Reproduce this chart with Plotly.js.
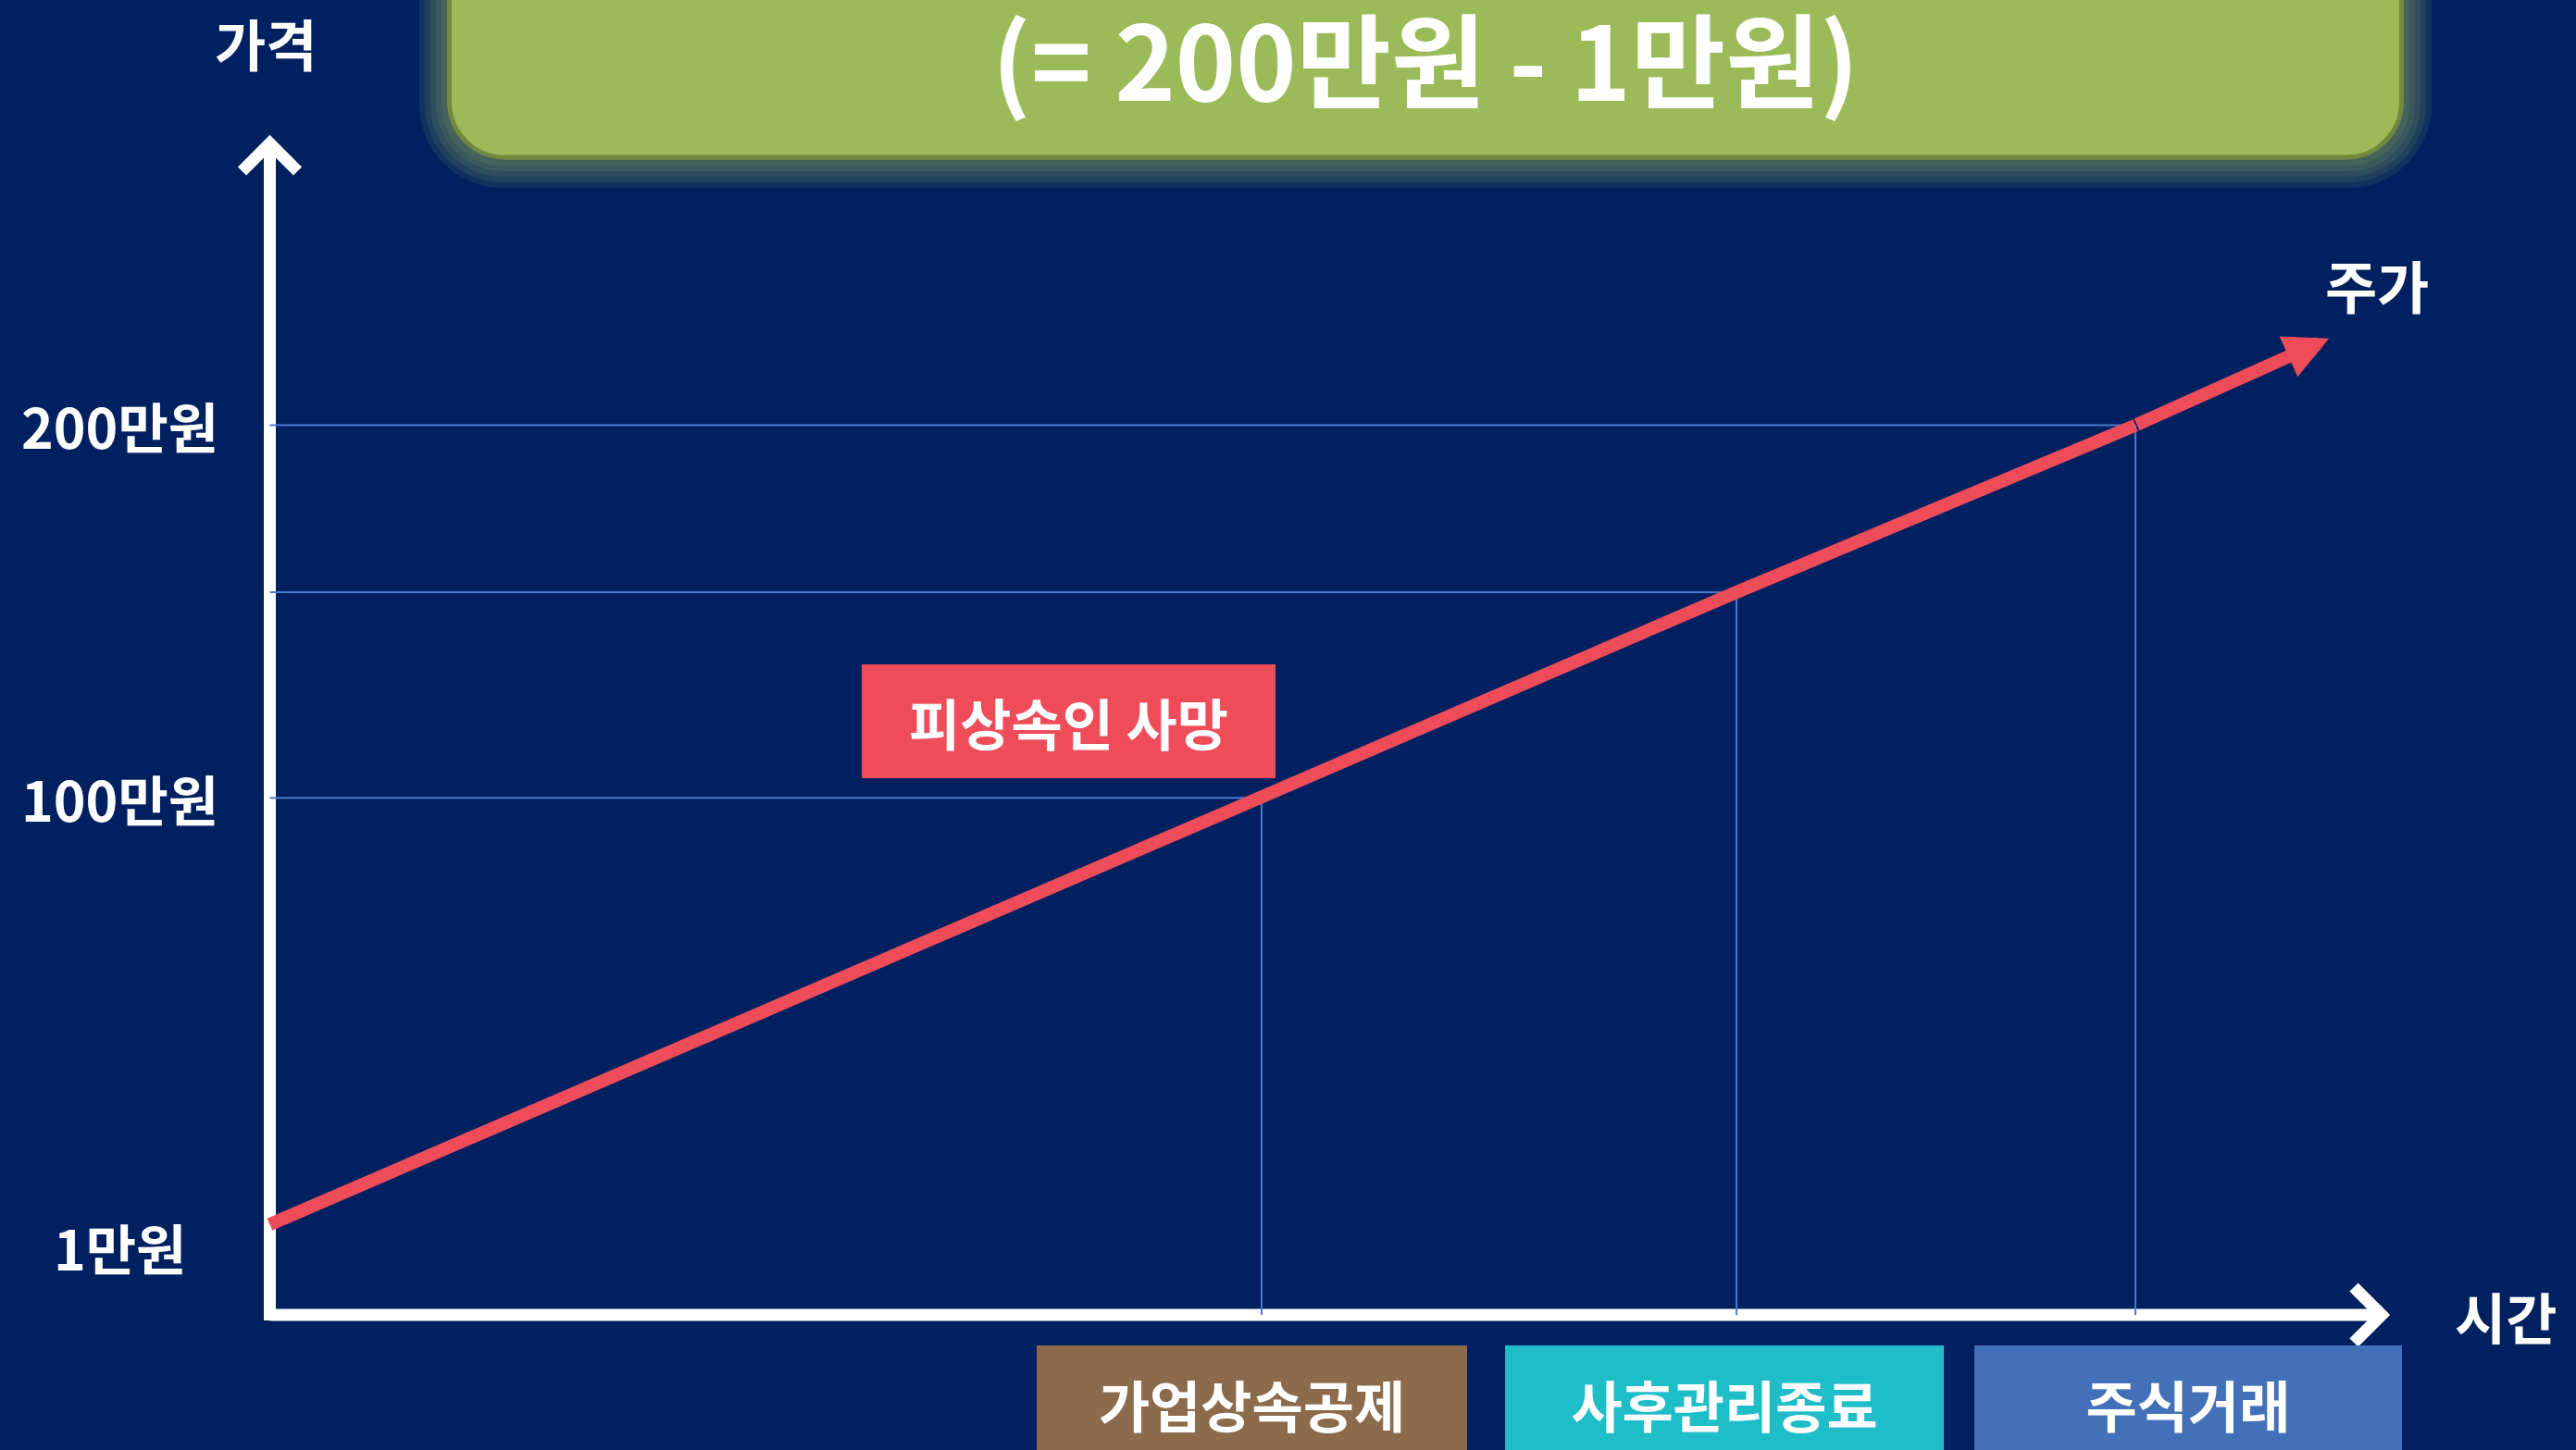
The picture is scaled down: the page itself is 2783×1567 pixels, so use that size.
<!DOCTYPE html>
<html><head><meta charset="utf-8">
<script src="https://cdn.plot.ly/plotly-3.0.1.min.js"></script>
<style>html,body{margin:0;padding:0;background:#002060;overflow:hidden}#chart{width:2783px;height:1567px;}</style>
</head><body><div id="chart"></div>
<script>
// ---------------- data ----------------
const chartTitle = '(= 200만원 - 1만원)';
const priceAxisTitle = '가격';
const timeAxisTitle = '시간';
const seriesName = '주가';
const markerLabel = '피상속인 사망';
const priceTickText = ['1만원', '100만원', '200만원'];
const priceTickLevel = [0.58, 4.40, 7.57];          // schematic heights of price labels
const startTime = 0, startLevel = 0.77;             // start of the price line
const eventLabels = ['가업상속공제', '사후관리종료', '주식거래'];
const eventTime = [4.686, 6.93, 8.815];
const eventLevel = [4.40, 6.15, 7.57];
const tipTime = 9.73, tipLevel = 8.31;              // arrow tip of the price line

// ---------------- layout helpers ----------------
const W = 2783, H = 1567;
const X0PX = 291.5, KX = 228.65, Y0PX = 1421, KY = 127;
const xRange = [-X0PX / KX, (W - X0PX) / KX];
const yRange = [(Y0PX - H) / KY, Y0PX / KY];
const dx = p => p / KX, dy = p => p / KY;
const pX = p => p / W, pY = p => 1 - p / H;
const FONT = "'Noto Sans CJK KR', 'Noto Sans', sans-serif";
const WHITE = '#FFFFFF', BG = '#002060';

function roundRectPath(x0, y0, x1, y1, r) {
  const k = 0.5523 * r;
  const P = (x, y) => pX(x).toFixed(5) + ',' + pY(y).toFixed(5);
  return 'M' + P(x0 + r, y0) + ' L' + P(x1 - r, y0) +
    ' C' + P(x1 - r + k, y0) + ' ' + P(x1, y0 + r - k) + ' ' + P(x1, y0 + r) +
    ' L' + P(x1, y1 - r) +
    ' C' + P(x1, y1 - r + k) + ' ' + P(x1 - r + k, y1) + ' ' + P(x1 - r, y1) +
    ' L' + P(x0 + r, y1) +
    ' C' + P(x0 + r - k, y1) + ' ' + P(x0, y1 - r + k) + ' ' + P(x0, y1 - r) +
    ' L' + P(x0, y0 + r) +
    ' C' + P(x0, y0 + r - k) + ' ' + P(x0 + r - k, y0) + ' ' + P(x0 + r, y0) + ' Z';
}

// ---------------- traces ----------------
const gx = [], gy = [];
eventTime.forEach((t, i) => {
  gx.push(0, t, null, t, t, null);
  gy.push(eventLevel[i], eventLevel[i], null, eventLevel[i], 0, null);
});
const gridTrace = {
  x: gx, y: gy, mode: 'lines', type: 'scatter', hoverinfo: 'skip',
  line: { color: '#4A7BD0', width: 2 }, showlegend: false
};
const priceTrace = {
  x: [startTime].concat(eventTime), y: [startLevel].concat(eventLevel),
  mode: 'lines', type: 'scatter', name: seriesName,
  line: { color: '#EF4C5A', width: 14 }, showlegend: false
};

// ---------------- shapes ----------------
const shapes = [];
// title box glow
const bx0 = 483, bx1 = 2597, by0 = -120, by1 = 173, br = 60;
[30, 24, 18, 12, 6].forEach(d => {
  shapes.push({ type: 'path', xref: 'paper', yref: 'paper', layer: 'below',
    path: roundRectPath(bx0 - d, by0 - d, bx1 + d, by1 + d, br + d),
    fillcolor: 'rgba(155,187,89,0.115)', line: { width: 0 } });
});
shapes.push({ type: 'path', xref: 'paper', yref: 'paper', layer: 'below',
  path: roundRectPath(bx0 + 2.5, by0, bx1 - 2.5, by1 - 3, br),
  fillcolor: '#9BBB59', line: { color: '#71893F', width: 5 } });
// axes (drawn as lines with open arrowheads)
shapes.push({ type: 'line', xref: 'x', yref: 'y', layer: 'below',
  x0: 0, x1: 0, y0: -dy(6), y1: dy(Y0PX - 155), line: { color: WHITE, width: 13 } });
shapes.push({ type: 'line', xref: 'x', yref: 'y', layer: 'below',
  x0: 0, x1: dx(2573 - X0PX), y0: 0, y1: 0, line: { color: WHITE, width: 13 } });
const yTop = dy(Y0PX - 155);
shapes.push({ type: 'path', xref: 'x', yref: 'y', layer: 'below',
  path: 'M' + (-dx(30)) + ',' + (yTop - dy(30)) + ' L0,' + yTop + ' L' + dx(30) + ',' + (yTop - dy(30)),
  line: { color: WHITE, width: 13 }, fillcolor: 'rgba(0,0,0,0)' });
const xEnd = dx(2573 - X0PX);
shapes.push({ type: 'path', xref: 'x', yref: 'y', layer: 'below',
  path: 'M' + (xEnd - dx(30)) + ',' + dy(30) + ' L' + xEnd + ',0 L' + (xEnd - dx(30)) + ',' + (-dy(30)),
  line: { color: WHITE, width: 13 }, fillcolor: 'rgba(0,0,0,0)' });

// ---------------- annotations ----------------
const txt = (size) => ({ family: FONT, size: size, color: WHITE, weight: 'bold' });
const annotations = [];
// arrowhead of price line
annotations.push({ x: tipTime, y: tipLevel, xref: 'x', yref: 'y',
  ax: eventTime[eventTime.length - 1], ay: eventLevel[eventLevel.length - 1], axref: 'x', ayref: 'y',
  text: '', showarrow: true, arrowhead: 2, arrowsize: 0.686, arrowwidth: 14, arrowcolor: '#EF4C5A' });
// price tick labels
priceTickText.forEach((t, i) => annotations.push({
  x: dx(129 - X0PX), y: priceTickLevel[i], xref: 'x', yref: 'y', text: t, showarrow: false,
  xanchor: 'center', yanchor: 'middle', font: txt(59) }));
// axis titles and series label
annotations.push({ x: dx(287 - X0PX), y: dy(Y0PX - 45), xref: 'x', yref: 'y', text: priceAxisTitle,
  showarrow: false, xanchor: 'center', yanchor: 'middle', font: txt(60) });
annotations.push({ x: dx(2707 - X0PX), y: 0, xref: 'x', yref: 'y', text: timeAxisTitle,
  showarrow: false, xanchor: 'center', yanchor: 'middle', font: txt(60) });
annotations.push({ x: dx(2568 - X0PX), y: dy(Y0PX - 307), xref: 'x', yref: 'y', text: seriesName,
  showarrow: false, xanchor: 'center', yanchor: 'middle', font: txt(61) });
// death marker label
annotations.push({ x: dx(1154.5 - X0PX), y: dy(Y0PX - 779.5), xref: 'x', yref: 'y', text: markerLabel,
  showarrow: false, xanchor: 'center', yanchor: 'middle', width: 447, height: 123,
  bgcolor: '#EF4C5A', borderpad: 0, borderwidth: 0, font: txt(60) });
// event boxes
const boxColors = ['#8C6B4C', '#1FBDC8', '#4371B9'];
const boxShift = [-10, -13, 57];
const boxWidth = [465, 474, 462];
eventLabels.forEach((t, i) => annotations.push({
  x: eventTime[i], y: dy(Y0PX - 1516), xref: 'x', yref: 'y', xshift: boxShift[i],
  text: t, showarrow: false, xanchor: 'center', yanchor: 'middle',
  width: boxWidth[i], height: 124, bgcolor: boxColors[i], borderpad: 0, borderwidth: 0, font: txt(60) }));

const layout = {
  width: W, height: H,
  margin: { l: 0, r: 0, t: 0, b: 0, pad: 0 },
  paper_bgcolor: BG, plot_bgcolor: BG,
  title: { text: chartTitle, font: { family: FONT, size: 111, color: WHITE, weight: 'bold' },
    xref: 'container', yref: 'container', x: 1540 / W, xanchor: 'center', y: 1 - 70 / H, yanchor: 'middle' },
  xaxis: { range: xRange, visible: false, fixedrange: true },
  yaxis: { range: yRange, visible: false, fixedrange: true },
  showlegend: false,
  shapes: shapes,
  annotations: annotations
};
Plotly.newPlot('chart', [gridTrace, priceTrace], layout, { staticPlot: true, displayModeBar: false });
</script></body></html>
